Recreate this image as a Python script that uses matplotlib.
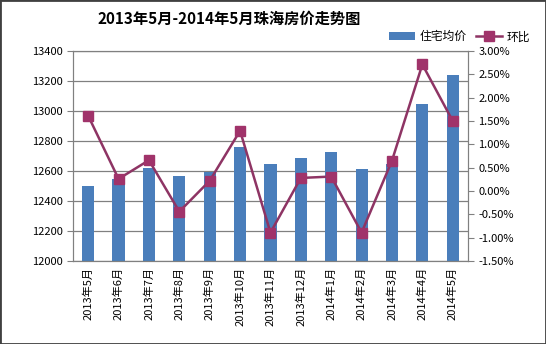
import numpy as np
import matplotlib.pyplot as plt

plt.rcParams['font.family'] = ['Noto Sans CJK SC', 'DejaVu Sans']

months = ['2013年5月', '2013年6月', '2013年7月', '2013年8月', '2013年9月', '2013年10月',
          '2013年11月', '2013年12月', '2014年1月', '2014年2月', '2014年3月', '2014年4月',
          '2014年5月']
price = [12500, 12545, 12620, 12567, 12595, 12760, 12647, 12687, 12727, 12613, 12645, 13047, 13240]
mom = [1.61, 0.26, 0.66, -0.44, 0.22, 1.29, -0.89, 0.28, 0.31, -0.89, 0.65, 2.71, 1.50]

bar_color = '#4a7ebb'
line_color = '#8e3464'
marker_color = '#a0336a'

fig = plt.figure(figsize=(5.46, 3.44), dpi=100)
ax = fig.add_axes([0.1337, 0.241, 0.7233, 0.611])
x = np.arange(len(months))
bars = ax.bar(x, price, width=0.4, color=bar_color, zorder=2, label='住宅均价')
ax.set_ylim(12000, 13400)
ax.set_yticks(np.arange(12000, 13401, 200))
ax.set_xlim(-0.5, len(months) - 0.5)
ax.set_xticks(x)
ax.set_xticklabels(months, rotation=90, fontsize=8)
ax.tick_params(axis='x', length=0, pad=4)
ax.tick_params(axis='y', labelsize=8, length=4, color='#808080')
ax.yaxis.grid(True, color='#808080', linewidth=0.9, zorder=0)
ax.set_axisbelow(True)
for s in ax.spines.values():
    s.set_color('#808080')

ax2 = ax.twinx()
line, = ax2.plot(x, mom, color=line_color, linewidth=1.8, marker='s', markersize=7,
                 markerfacecolor=marker_color, markeredgecolor=marker_color, zorder=3,
                 label='环比')
ax2.set_ylim(-1.5, 3.0)
ax2.set_yticks(np.arange(-1.5, 3.01, 0.5))
ax2.set_yticklabels([f'{v:.2f}%' for v in np.arange(-1.5, 3.01, 0.5)])
ax2.tick_params(axis='y', labelsize=8, length=4, color='#808080')
for s in ax2.spines.values():
    s.set_color('#808080')

fig.text(0.42, 0.945, '2013年5月-2014年5月珠海房价走势图', ha='center', va='center',
         fontsize=11, fontweight='bold')
fig.legend(handles=[bars, line], loc='center right', bbox_to_anchor=(0.99, 0.893),
           ncol=2, frameon=False, fontsize=8.5, handlelength=2.2, columnspacing=0.8,
           handletextpad=0.4)

fig.patches.append(plt.Rectangle((0, 0), 1, 1, transform=fig.transFigure, fill=False,
                                 edgecolor='#404040', linewidth=2))
fig.savefig('out.png', dpi=100)
